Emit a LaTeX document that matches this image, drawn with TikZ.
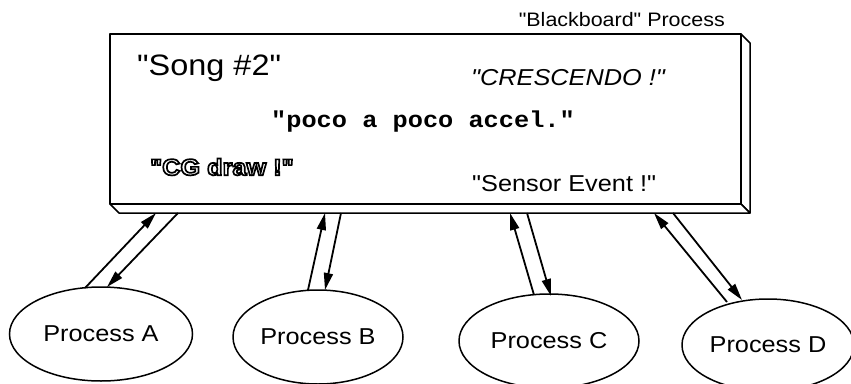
\documentclass[tikz,border=0pt]{standalone}
\usepackage{fontspec}
\setmainfont{Liberation Sans}[FakeStretch=1.1, Ligatures=TeXOff]
\newfontfamily\monob{Liberation Mono}[FakeStretch=1.1, Ligatures=TeXOff]
\newcommand{\hollowtext}[1]{\special{pdf:literal direct 2 Tr 1.7 w 1 g 0 G}#1\special{pdf:literal direct 0 Tr 0 g}}
\usetikzlibrary{shapes.geometric,arrows.meta}
\tikzset{
  proc/.style={ellipse, draw, line width=1.5pt, inner sep=0pt, font=\fontsize{23}{23}\selectfont},
  flow/.style={line width=1.8pt, -{Triangle[length=17pt,width=9pt]}},
  board/.style={line width=1.9pt, line join=round},
  bevel/.style={line width=1.5pt, line join=round, fill=white},
  msg/.style={anchor=west, inner sep=0pt}
}
\begin{document}
\begin{tikzpicture}[x=1pt,y=-1pt]
\useasboundingbox (0,0) rectangle (851,383);
% blackboard
\draw[bevel] (741,34) -- (750,43) -- (750,213) -- (741,204) -- cycle;
\draw[bevel] (110,204) -- (119,213) -- (750,213) -- (741,204) -- cycle;
\draw[board] (110,34) rectangle (741,204);
\node[anchor=east, inner sep=0pt, font=\fontsize{19.5}{19.5}\selectfont] (title) at (725,20) {"Blackboard" Process};
\node[msg, font=\fontsize{29.5}{29.5}\selectfont] (song) at (137,68) {"Song \#2"};
\node[msg, font=\fontsize{23}{23}\selectfont\itshape] (cresc) at (471,78) {"CRESCENDO !"};
\node[msg, font=\fontsize{23}{23}\selectfont\monob\bfseries] (poco) at (271,122) {"poco a poco accel."};
\node[msg, font=\fontsize{23}{23}\selectfont\bfseries] (cg) at (150,167) {\hollowtext{"CG draw !"}};
\node[msg, font=\fontsize{23}{23}\selectfont] (sensor) at (472,184) {"Sensor Event !"};
% processes
\node[proc, minimum width=183pt, minimum height=94pt] (A) at (101,334) {Process A};
\node[proc, minimum width=170pt, minimum height=94pt] (B) at (318,337) {Process B};
\node[proc, minimum width=180pt, minimum height=94pt] (C) at (549,341) {Process C};
\node[proc, minimum width=172pt, minimum height=92pt] (D) at (768,345) {Process D};
% connector end points
\coordinate (a1) at (85,288);  \coordinate (a2) at (156,213);
\coordinate (a3) at (178,213); \coordinate (a4) at (107,287);
\coordinate (b1) at (308,290); \coordinate (b2) at (325,213);
\coordinate (b3) at (341,213); \coordinate (b4) at (325,290);
\coordinate (c1) at (534,295); \coordinate (c2) at (510,213);
\coordinate (c3) at (527,213); \coordinate (c4) at (551,296);
\coordinate (d1) at (727,302); \coordinate (d2) at (654,213);
\coordinate (d3) at (673,213); \coordinate (d4) at (742,300);
\draw[flow] (a1) -- (a2);
\draw[flow] (a3) -- (a4);
\draw[flow] (b1) -- (b2);
\draw[flow] (b3) -- (b4);
\draw[flow] (c1) -- (c2);
\draw[flow] (c3) -- (c4);
\draw[flow] (d1) -- (d2);
\draw[flow] (d3) -- (d4);
\end{tikzpicture}
\end{document}
